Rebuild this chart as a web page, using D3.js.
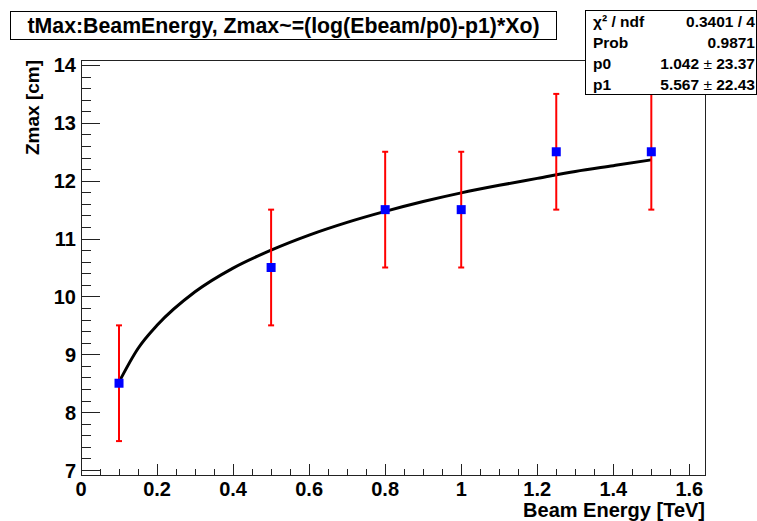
<!DOCTYPE html>
<html><head><meta charset="utf-8">
<script src="https://cdn.jsdelivr.net/npm/d3@7"></script>
<style>
html,body{margin:0;padding:0;background:#fff;}
svg{display:block;font-family:"Liberation Sans",Arial,Helvetica,sans-serif;}
</style></head>
<body>
<script>
// data
const energies = [0.1, 0.5, 0.8, 1.0, 1.25, 1.5];
const zmax = [8.5, 10.5, 11.5, 11.5, 12.5, 12.5];
const zerr = [1, 1, 1, 1, 1, 1];
const fitX = [0.1, 0.15, 0.2, 0.3, 0.4, 0.5, 0.6, 0.7, 0.8, 0.9, 1.0, 1.1, 1.2, 1.3, 1.4, 1.5];
const fitY = [8.52, 9.10, 9.50, 10.08, 10.49, 10.80, 11.06, 11.28, 11.47, 11.64, 11.79, 11.92, 12.04, 12.16, 12.26, 12.36];
const xTicks = [0, 0.2, 0.4, 0.6, 0.8, 1, 1.2, 1.4, 1.6];
const yTicks = [7, 8, 9, 10, 11, 12, 13, 14];
const titleText = "tMax:BeamEnergy, Zmax~=(log(Ebeam/p0)-p1)*Xo)";
const statNames = ["\u03C7\u00B2 / ndf", "Prob", "p0", "p1"];
const statVals = ["0.3401 / 4", "0.9871", "1.042", "5.567"];
const statErrs = [null, null, "23.37", "22.43"];

const W = 757, H = 521;
const svg = d3.select("body").append("svg").attr("width", W).attr("height", H);
svg.append("rect").attr("width", W).attr("height", H).attr("fill", "#fff");

const fx0 = 81, fx1 = 705, fy0 = 60, fy1 = 475;
const x = d3.scaleLinear().domain([0, 1.6412]).range([fx0, fx1]);
const y = d3.scaleLinear().domain([6.914, 14.086]).range([fy1, fy0]);

// frame
svg.append("rect").attr("x", fx0 + 0.5).attr("y", fy0 + 0.5).attr("width", fx1 - fx0).attr("height", fy1 - fy0)
  .attr("fill", "none").attr("stroke", "#222").attr("stroke-width", 1);

// y ticks (major + minor)
const yMinor = d3.range(7, 14.05, 0.2).filter(v => Math.abs(v - Math.round(v)) > 1e-6);
const gy = svg.append("g");
gy.selectAll("line.maj").data(yTicks).join("line")
  .attr("x1", fx0).attr("x2", fx0 + 19).attr("y1", d => Math.round(y(d)) + 0.5).attr("y2", d => Math.round(y(d)) + 0.5)
  .attr("stroke", "#222");
gy.selectAll("line.min").data(yMinor).join("line")
  .attr("x1", fx0).attr("x2", fx0 + 10).attr("y1", d => Math.round(y(d)) + 0.5).attr("y2", d => Math.round(y(d)) + 0.5)
  .attr("stroke", "#222");
gy.selectAll("text").data(yTicks).join("text")
  .attr("x", 76).attr("y", d => y(d) + 7.5).attr("text-anchor", "end")
  .attr("font-size", 20).attr("font-weight", "bold").text(d => d);

// x ticks
const xMinor = d3.range(0, 1.64, 0.05).filter(v => Math.abs(v / 0.2 - Math.round(v / 0.2)) > 1e-6);
const gx = svg.append("g");
gx.selectAll("line.maj").data(xTicks).join("line")
  .attr("x1", d => Math.round(x(d)) + 0.5).attr("x2", d => Math.round(x(d)) + 0.5).attr("y1", fy1).attr("y2", fy1 - 11)
  .attr("stroke", "#222");
gx.selectAll("line.min").data(xMinor).join("line")
  .attr("x1", d => Math.round(x(d)) + 0.5).attr("x2", d => Math.round(x(d)) + 0.5).attr("y1", fy1).attr("y2", fy1 - 6)
  .attr("stroke", "#222");
gx.selectAll("text").data(xTicks).join("text")
  .attr("x", d => x(d)).attr("y", 496).attr("text-anchor", "middle")
  .attr("font-size", 20).attr("font-weight", "bold").text(d => d);

// axis titles
svg.append("text").attr("x", fx1).attr("y", 517).attr("text-anchor", "end")
  .attr("font-size", 20).attr("font-weight", "bold").text("Beam Energy [TeV]");
svg.append("text").attr("transform", `translate(39,${fy0}) rotate(-90)`).attr("text-anchor", "end")
  .attr("font-size", 19).attr("font-weight", "bold").text("Zmax [cm]");

// fit curve
const line = d3.line().x(d => x(d[0])).y(d => y(d[1])).curve(d3.curveMonotoneX);
svg.append("path").datum(fitX.map((v, i) => [v, fitY[i]]))
  .attr("d", line).attr("fill", "none").attr("stroke", "#000").attr("stroke-width", 3);

// error bars
const pts = energies.map((e, i) => ({e, z: zmax[i], err: zerr[i]}));
const ge = svg.append("g").attr("stroke", "#ff0000").attr("stroke-width", 2);
ge.selectAll("line.v").data(pts).join("line")
  .attr("x1", d => x(d.e)).attr("x2", d => x(d.e)).attr("y1", d => y(d.z - d.err)).attr("y2", d => y(d.z + d.err));
ge.selectAll("line.t").data(pts).join("line")
  .attr("x1", d => x(d.e) - 3).attr("x2", d => x(d.e) + 3).attr("y1", d => y(d.z + d.err)).attr("y2", d => y(d.z + d.err));
ge.selectAll("line.b").data(pts).join("line")
  .attr("x1", d => x(d.e) - 3).attr("x2", d => x(d.e) + 3).attr("y1", d => y(d.z - d.err)).attr("y2", d => y(d.z - d.err));

// markers
svg.append("g").selectAll("rect").data(pts).join("rect")
  .attr("x", d => x(d.e) - 4.5).attr("y", d => y(d.z) - 4.5).attr("width", 9).attr("height", 9)
  .attr("fill", "#0000ff");

// title box
svg.append("rect").attr("x", 10.5).attr("y", 11.5).attr("width", 546).attr("height", 28)
  .attr("fill", "#fff").attr("stroke", "#000").attr("stroke-width", 1);
svg.append("text").attr("x", 283.5).attr("y", 33).attr("text-anchor", "middle")
  .attr("font-size", 21.3).attr("font-weight", "bold").text(titleText);

// stats box
svg.append("rect").attr("x", 585.5).attr("y", 10.5).attr("width", 171).attr("height", 84)
  .attr("fill", "#fff").attr("stroke", "#000").attr("stroke-width", 1);
const rowY = [27, 48, 69, 90];
statNames.forEach((n, i) => {
  svg.append("text").attr("x", 593).attr("y", rowY[i]).attr("font-size", 15.5).attr("font-weight", "bold").text(n);
  const t = svg.append("text").attr("x", 755).attr("y", rowY[i]).attr("text-anchor", "end")
    .attr("font-size", 15.5).attr("font-weight", "bold");
  if (statErrs[i] === null) {
    t.text(statVals[i]);
  } else {
    t.append("tspan").text(statVals[i] + " ");
    t.append("tspan").attr("font-weight", "normal").text("\u00B1");
    t.append("tspan").text(" " + statErrs[i]);
  }
});
</script>
</body></html>
